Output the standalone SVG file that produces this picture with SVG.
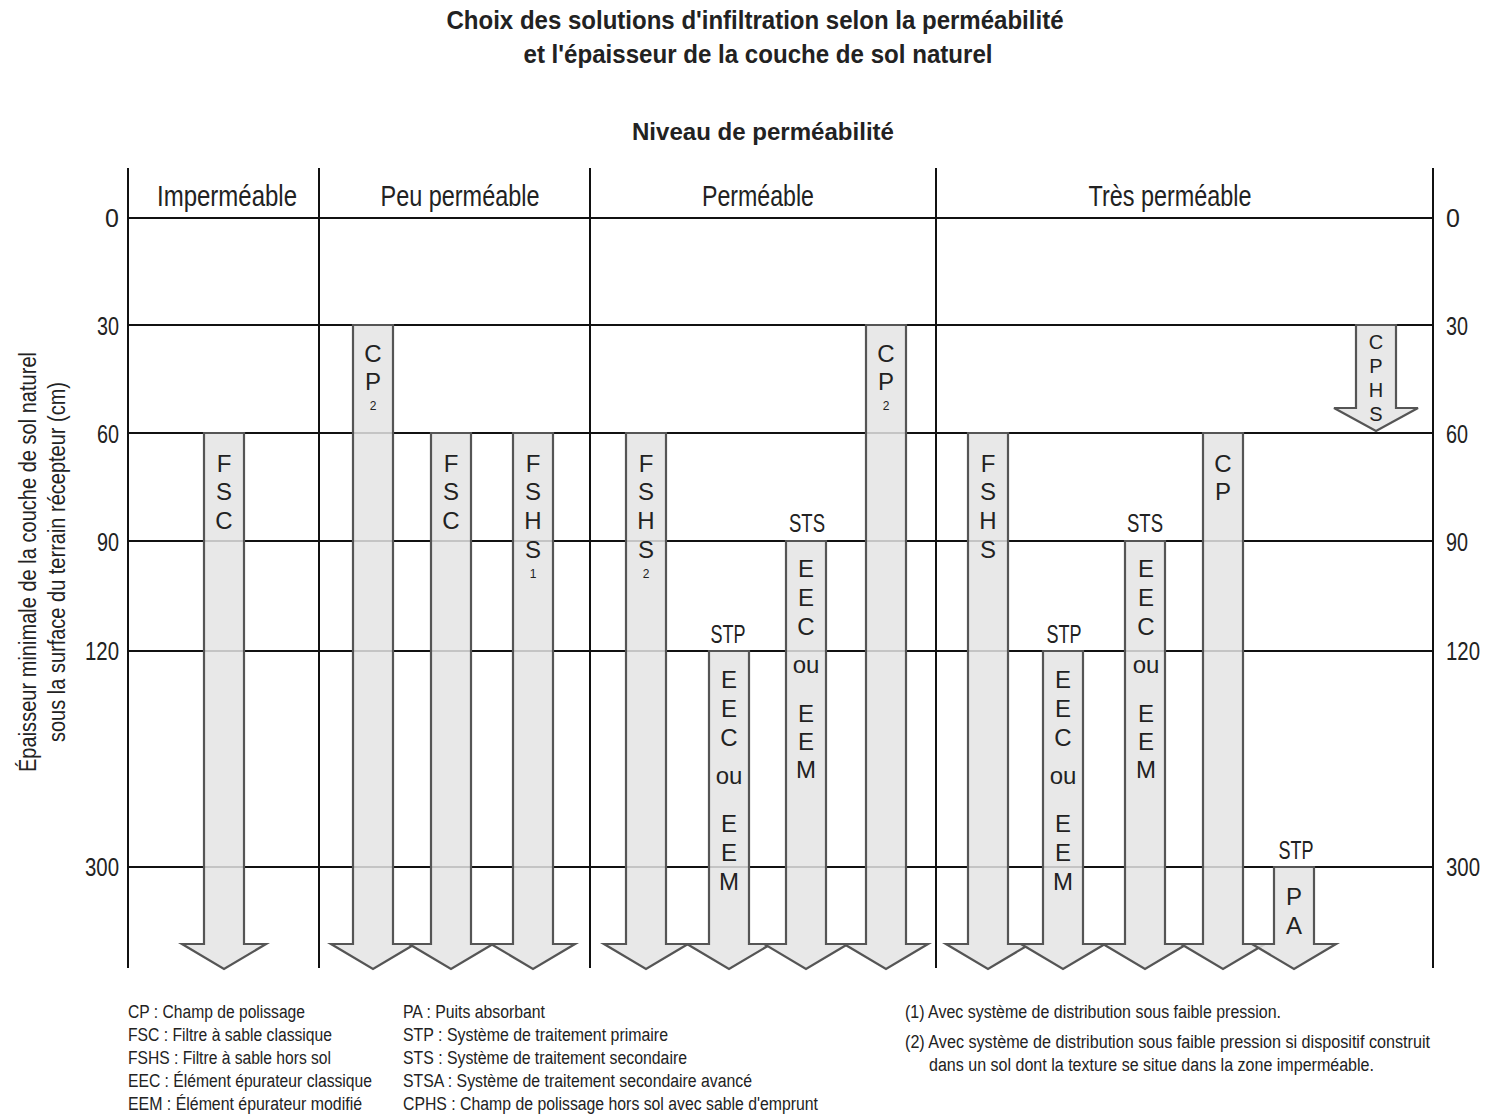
<svg xmlns="http://www.w3.org/2000/svg" width="1494" height="1115" viewBox="0 0 1494 1115">
<style>
text{font-family:"Liberation Sans",Arial,sans-serif;fill:#222}
.title{font-size:26px;font-weight:bold;text-anchor:middle}
.hdr{font-size:29px;text-anchor:middle}
.num{font-size:25px}
.ax{font-size:23px;text-anchor:middle}
.lt{font-size:24px;text-anchor:middle}
.cphs{font-size:20px;text-anchor:middle}
.sm{font-size:12px}
.lab{font-size:25px;text-anchor:middle}
.leg{font-size:18px}
.grid{stroke:#111;stroke-width:2;fill:none}
.arr{fill:#e4e4e4;fill-opacity:0.85;stroke:#555;stroke-width:2.2;stroke-linejoin:miter}
</style>
<rect width="1494" height="1115" fill="#fff"/>
<g id="title">
<text class="title" x="755" y="29" textLength="617" lengthAdjust="spacingAndGlyphs">Choix des solutions d'infiltration selon la perméabilité</text>
<text class="title" x="758" y="63" textLength="469" lengthAdjust="spacingAndGlyphs">et l'épaisseur de la couche de sol naturel</text>
<text class="title" x="763" y="140" style="font-size:24px" textLength="262" lengthAdjust="spacingAndGlyphs">Niveau de perméabilité</text>
</g>
<g id="grid" class="grid">
<line x1="128" y1="168" x2="128" y2="968"/>
<line x1="319" y1="168" x2="319" y2="968"/>
<line x1="590" y1="168" x2="590" y2="968"/>
<line x1="936" y1="168" x2="936" y2="968"/>
<line x1="1433" y1="168" x2="1433" y2="968"/>
<line x1="128" y1="218" x2="1433" y2="218"/>
<line x1="128" y1="325" x2="1433" y2="325"/>
<line x1="128" y1="433" x2="1433" y2="433"/>
<line x1="128" y1="541" x2="1433" y2="541"/>
<line x1="128" y1="651" x2="1433" y2="651"/>
<line x1="128" y1="867" x2="1433" y2="867"/>
</g>
<g id="headers">
<text class="hdr" x="227" y="206" textLength="140" lengthAdjust="spacingAndGlyphs">Imperméable</text>
<text class="hdr" x="460" y="206" textLength="159" lengthAdjust="spacingAndGlyphs">Peu perméable</text>
<text class="hdr" x="758" y="206" textLength="112" lengthAdjust="spacingAndGlyphs">Perméable</text>
<text class="hdr" x="1170" y="206" textLength="163" lengthAdjust="spacingAndGlyphs">Très perméable</text>
</g>
<g id="scale-left">
<text class="num" x="119" y="227" text-anchor="end">0</text>
<text class="num" x="119" y="335" text-anchor="end" textLength="22" lengthAdjust="spacingAndGlyphs">30</text>
<text class="num" x="119" y="443" text-anchor="end" textLength="22" lengthAdjust="spacingAndGlyphs">60</text>
<text class="num" x="119" y="551" text-anchor="end" textLength="22" lengthAdjust="spacingAndGlyphs">90</text>
<text class="num" x="119" y="660" text-anchor="end" textLength="34" lengthAdjust="spacingAndGlyphs">120</text>
<text class="num" x="119" y="876" text-anchor="end" textLength="34" lengthAdjust="spacingAndGlyphs">300</text>
</g>
<g id="scale-right">
<text class="num" x="1446" y="227">0</text>
<text class="num" x="1446" y="335" textLength="22" lengthAdjust="spacingAndGlyphs">30</text>
<text class="num" x="1446" y="443" textLength="22" lengthAdjust="spacingAndGlyphs">60</text>
<text class="num" x="1446" y="551" textLength="22" lengthAdjust="spacingAndGlyphs">90</text>
<text class="num" x="1446" y="660" textLength="34" lengthAdjust="spacingAndGlyphs">120</text>
<text class="num" x="1446" y="876" textLength="34" lengthAdjust="spacingAndGlyphs">300</text>
</g>
<g id="axis-title">
<text class="ax" transform="translate(36,562) rotate(-90)" textLength="420" lengthAdjust="spacingAndGlyphs">Épaisseur minimale de la couche de sol naturel</text>
<text class="ax" transform="translate(65,562) rotate(-90)" textLength="360" lengthAdjust="spacingAndGlyphs">sous la surface du terrain récepteur (cm)</text>
</g>
<g id="connectors">
<g id="a-fsc-imp">
<path class="arr" d="M204,433 V944 H182 L224,969 L266,944 H244 V433 Z"/>
<text class="lt"><tspan x="224" y="472">F</tspan><tspan x="224" y="500">S</tspan><tspan x="224" y="529">C</tspan></text>
</g>
<g id="a-cp-peu">
<path class="arr" d="M353,325 V944 H331 L373,969 L415,944 H393 V325 Z"/>
<text class="lt"><tspan x="373" y="362">C</tspan><tspan x="373" y="390">P</tspan><tspan class="sm" x="373" y="410">2</tspan></text>
</g>
<g id="a-fsc-peu">
<path class="arr" d="M431,433 V944 H409 L451,969 L493,944 H471 V433 Z"/>
<text class="lt"><tspan x="451" y="472">F</tspan><tspan x="451" y="500">S</tspan><tspan x="451" y="529">C</tspan></text>
</g>
<g id="a-fshs-peu">
<path class="arr" d="M513,433 V944 H491 L533,969 L575,944 H553 V433 Z"/>
<text class="lt"><tspan x="533" y="472">F</tspan><tspan x="533" y="500">S</tspan><tspan x="533" y="529">H</tspan><tspan x="533" y="558">S</tspan><tspan class="sm" x="533" y="578">1</tspan></text>
</g>
<g id="a-fshs-perm">
<path class="arr" d="M626,433 V944 H604 L646,969 L688,944 H666 V433 Z"/>
<text class="lt"><tspan x="646" y="472">F</tspan><tspan x="646" y="500">S</tspan><tspan x="646" y="529">H</tspan><tspan x="646" y="558">S</tspan><tspan class="sm" x="646" y="578">2</tspan></text>
</g>
<g id="a-stp-perm">
<path class="arr" d="M709,651 V944 H687 L729,969 L771,944 H749 V651 Z"/>
<text class="lab" x="728" y="643" textLength="35" lengthAdjust="spacingAndGlyphs">STP</text>
<text class="lt"><tspan x="729" y="688">E</tspan><tspan x="729" y="717">E</tspan><tspan x="729" y="746">C</tspan><tspan x="729" y="784">ou</tspan><tspan x="729" y="832">E</tspan><tspan x="729" y="861">E</tspan><tspan x="729" y="890">M</tspan></text>
</g>
<g id="a-sts-perm">
<path class="arr" d="M786,541 V944 H764 L806,969 L848,944 H826 V541 Z"/>
<text class="lab" x="807" y="532" textLength="36" lengthAdjust="spacingAndGlyphs">STS</text>
<text class="lt"><tspan x="806" y="577">E</tspan><tspan x="806" y="606">E</tspan><tspan x="806" y="635">C</tspan><tspan x="806" y="673">ou</tspan><tspan x="806" y="722">E</tspan><tspan x="806" y="750">E</tspan><tspan x="806" y="778">M</tspan></text>
</g>
<g id="a-cp-perm">
<path class="arr" d="M866,325 V944 H844 L886,969 L928,944 H906 V325 Z"/>
<text class="lt"><tspan x="886" y="362">C</tspan><tspan x="886" y="390">P</tspan><tspan class="sm" x="886" y="410">2</tspan></text>
</g>
<g id="a-fshs-tres">
<path class="arr" d="M968,433 V944 H946 L988,969 L1030,944 H1008 V433 Z"/>
<text class="lt"><tspan x="988" y="472">F</tspan><tspan x="988" y="500">S</tspan><tspan x="988" y="529">H</tspan><tspan x="988" y="558">S</tspan></text>
</g>
<g id="a-stp-tres">
<path class="arr" d="M1043,651 V944 H1021 L1063,969 L1105,944 H1083 V651 Z"/>
<text class="lab" x="1064" y="643" textLength="35" lengthAdjust="spacingAndGlyphs">STP</text>
<text class="lt"><tspan x="1063" y="688">E</tspan><tspan x="1063" y="717">E</tspan><tspan x="1063" y="746">C</tspan><tspan x="1063" y="784">ou</tspan><tspan x="1063" y="832">E</tspan><tspan x="1063" y="861">E</tspan><tspan x="1063" y="890">M</tspan></text>
</g>
<g id="a-sts-tres">
<path class="arr" d="M1125,541 V944 H1103 L1145,969 L1187,944 H1165 V541 Z"/>
<text class="lab" x="1145" y="532" textLength="36" lengthAdjust="spacingAndGlyphs">STS</text>
<text class="lt"><tspan x="1146" y="577">E</tspan><tspan x="1146" y="606">E</tspan><tspan x="1146" y="635">C</tspan><tspan x="1146" y="673">ou</tspan><tspan x="1146" y="722">E</tspan><tspan x="1146" y="750">E</tspan><tspan x="1146" y="778">M</tspan></text>
</g>
<g id="a-cp-tres">
<path class="arr" d="M1203,433 V944 H1181 L1223,969 L1265,944 H1243 V433 Z"/>
<text class="lt"><tspan x="1223" y="472">C</tspan><tspan x="1223" y="500">P</tspan></text>
</g>
<g id="a-pa-tres">
<path class="arr" d="M1274,867 V944 H1252 L1294,969 L1336,944 H1314 V867 Z"/>
<text class="lab" x="1296" y="859" textLength="35" lengthAdjust="spacingAndGlyphs">STP</text>
<text class="lt"><tspan x="1294" y="905">P</tspan><tspan x="1294" y="934">A</tspan></text>
</g>
<g id="a-cphs-tres">
<path class="arr" d="M1356,325 V408 H1334 L1376,431 L1418,408 H1396 V325 Z"/>
<text class="cphs"><tspan x="1376" y="349">C</tspan><tspan x="1376" y="373">P</tspan><tspan x="1376" y="397">H</tspan><tspan x="1376" y="421">S</tspan></text>
</g>
</g>
<g id="legend">
<text class="leg" x="128" y="1018" textLength="177" lengthAdjust="spacingAndGlyphs">CP : Champ de polissage</text>
<text class="leg" x="128" y="1041" textLength="204" lengthAdjust="spacingAndGlyphs">FSC : Filtre à sable classique</text>
<text class="leg" x="128" y="1064" textLength="203" lengthAdjust="spacingAndGlyphs">FSHS : Filtre à sable hors sol</text>
<text class="leg" x="128" y="1087" textLength="244" lengthAdjust="spacingAndGlyphs">EEC : Élément épurateur classique</text>
<text class="leg" x="128" y="1110" textLength="234" lengthAdjust="spacingAndGlyphs">EEM : Élément épurateur modifié</text>
<text class="leg" x="403" y="1018" textLength="142" lengthAdjust="spacingAndGlyphs">PA : Puits absorbant</text>
<text class="leg" x="403" y="1041" textLength="265" lengthAdjust="spacingAndGlyphs">STP : Système de traitement primaire</text>
<text class="leg" x="403" y="1064" textLength="284" lengthAdjust="spacingAndGlyphs">STS : Système de traitement secondaire</text>
<text class="leg" x="403" y="1087" textLength="349" lengthAdjust="spacingAndGlyphs">STSA : Système de traitement secondaire avancé</text>
<text class="leg" x="403" y="1110" textLength="415" lengthAdjust="spacingAndGlyphs">CPHS : Champ de polissage hors sol avec sable d'emprunt</text>
<text class="leg" x="905" y="1018" textLength="376" lengthAdjust="spacingAndGlyphs">(1) Avec système de distribution sous faible pression.</text>
<text class="leg" x="905" y="1048" textLength="525" lengthAdjust="spacingAndGlyphs">(2) Avec système de distribution sous faible pression si dispositif construit</text>
<text class="leg" x="929" y="1071" textLength="445" lengthAdjust="spacingAndGlyphs">dans un sol dont la texture se situe dans la zone imperméable.</text>
</g>
</svg>
